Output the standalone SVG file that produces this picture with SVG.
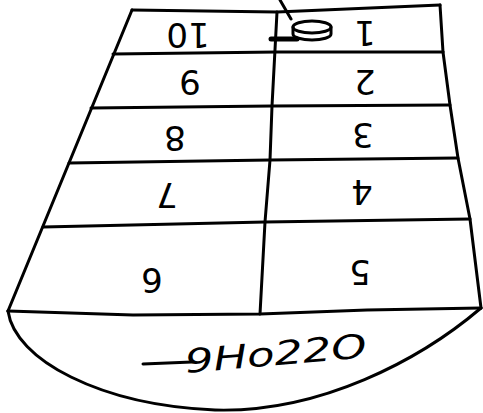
<svg xmlns="http://www.w3.org/2000/svg" width="483" height="413" viewBox="0 0 483 413">
<style>
.ln{fill:none;stroke:#000;stroke-width:3;stroke-linejoin:round;stroke-linecap:round}
.num{font-family:"DejaVu Sans","Liberation Sans",sans-serif;font-size:34px;fill:#000;text-anchor:middle}
.word{font-family:"DejaVu Sans","Liberation Sans",sans-serif;font-size:33px;font-style:italic;fill:#000}
</style>
<rect width="483" height="413" fill="#fff"/>
<g id="grid">
<polyline class="ln" points="132,10 277,12 440,5"/>
<polyline class="ln" points="132,10 8,311"/>
<polyline class="ln" points="440,5 443,52 450,105 458,158 470,219 481,308"/>
<polyline class="ln" points="113,54 277,52 443,52"/>
<polyline class="ln" points="91,108 272,106 450,105"/>
<polyline class="ln" points="69,163 270,160 458,158"/>
<polyline class="ln" points="43,227 265,222 470,219"/>
<polyline class="ln" points="8,311 133,315 260,314 367,310 481,308"/>
<polyline class="ln" points="277,12 272,106 270,160 265,222 260,314"/>
<path class="ln" d="M8,311 C15,360 100,405 215,410 C320,413 420,360 481,308"/>
</g>
<g id="stone">
<ellipse cx="312" cy="27" rx="19" ry="6" class="ln"/>
<path class="ln" d="M293,27 V34 A19,6 0 0 0 331,34 V27"/>
<path d="M271,39 L297,39" stroke="#000" stroke-width="5" stroke-linecap="round"/>
</g>
<g id="connectors">
<path class="ln" d="M280,0 L291,19"/>
</g>
<g id="cell1"><text class="num" transform="translate(365,33) rotate(180)" dy="0.36em">1</text></g>
<g id="cell2"><text class="num" transform="translate(365,82) rotate(180)" dy="0.36em">2</text></g>
<g id="cell3"><text class="num" transform="translate(363,135) rotate(180)" dy="0.36em">3</text></g>
<g id="cell4"><text class="num" transform="translate(362,192) rotate(180)" dy="0.36em">4</text></g>
<g id="cell5"><text class="num" transform="translate(360,272) rotate(180)" dy="0.36em">5</text></g>
<g id="cell6"><text class="num" transform="translate(152,280) rotate(180)" dy="0.36em">6</text></g>
<g id="cell7"><text class="num" transform="translate(167,195) rotate(180)" dy="0.36em">7</text></g>
<g id="cell8"><text class="num" transform="translate(175,138) rotate(180)" dy="0.36em">8</text></g>
<g id="cell9"><text class="num" transform="translate(190,82) rotate(180)" dy="0.36em">9</text></g>
<g id="cell10"><text class="num" transform="translate(188,35) rotate(180)" dy="0.36em">10</text></g>
<g id="goal">
<path class="ln" d="M143,364 L192,362"/>
<text class="word" transform="translate(186,373) rotate(-5)" textLength="182" lengthAdjust="spacingAndGlyphs">9Ho22O</text>
</g>
</svg>
